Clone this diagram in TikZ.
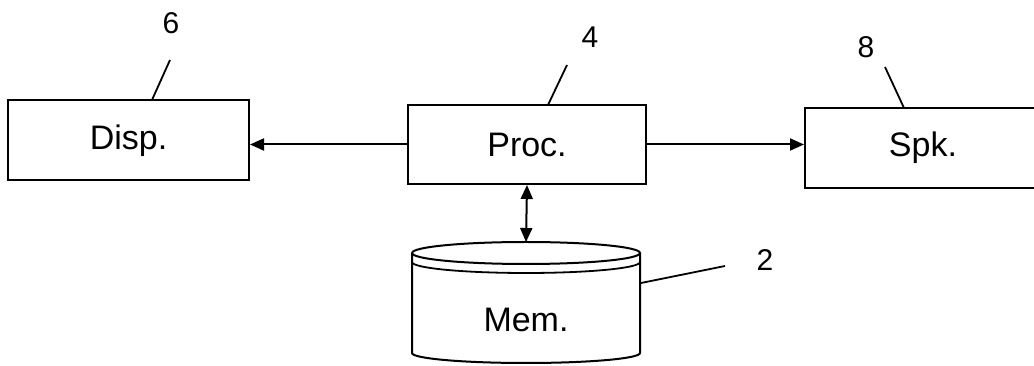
\documentclass[tikz,border=0pt]{standalone}
\usepackage{fontspec}
\setmainfont{Liberation Sans}
\usetikzlibrary{positioning,arrows.meta}
\newcommand{\blockfont}{\fontsize{34}{40}\selectfont}
\newcommand{\refnumfont}{\fontsize{30}{36}\selectfont}

\begin{document}
\begin{tikzpicture}[x=1pt, y=1pt,
    block/.style={draw, line width=2pt, minimum height=80pt, font=\blockfont},
    refnum/.style={font=\refnumfont, inner sep=0pt},
    lead/.style={line width=1.8pt},
    arrow/.style={line width=2pt, -{Triangle[length=14pt, width=12pt]}},
    dblarrow/.style={line width=2pt, {Triangle[length=14pt, width=12pt]}-{Triangle[length=14pt, width=12pt]}}
]
    \useasboundingbox (0,0) rectangle (1034,366);

    \node[block, minimum width=241pt] (disp) at (128.5,225.5) {Disp.};
    \node[block, minimum width=238pt, minimum height=79pt] (proc) at (527,221.5) {Proc.};
    \node[block, minimum width=240pt] (spk) at (925,218) {\hspace*{-4pt}Spk.};

    % memory drum
    \node[font=\blockfont] (mem) at (526,46) {Mem.};
    \coordinate (memtop) at (526,124);
    \draw[line width=2pt] (412,113) arc[start angle=180, end angle=-180, x radius=114, y radius=11];
    \draw[line width=1.8pt] (412,104) arc[start angle=180, end angle=360, x radius=114, y radius=11];
    \draw[line width=2pt] (412,113) -- (412,13)
        arc[start angle=180, end angle=360, x radius=114, y radius=10] -- (640,113);

    \draw[arrow] (proc.west) -- (proc.west -| disp.east);
    \draw[arrow] (proc.east) -- (proc.east -| spk.west);
    \draw[dblarrow] (proc.south) -- (memtop);

    % reference numerals
    \node[refnum] (n6) at (171,343) {6};
    \node[refnum] (n4) at (590,329) {4};
    \node[refnum] (n8) at (866,319) {8};
    \node[refnum] (n2) at (765,106) {2};

    \coordinate (t6) at (170,306);
    \coordinate (b6) at (152,266);
    \coordinate (t4) at (567,301);
    \coordinate (b4) at (548,261);
    \coordinate (t8) at (885,299);
    \coordinate (b8) at (904,258);
    \coordinate (t2) at (725,100);
    \coordinate (b2) at (641,83);

    \draw[lead] (t6) -- (b6);
    \draw[lead] (t4) -- (b4);
    \draw[lead] (t8) -- (b8);
    \draw[lead] (t2) -- (b2);
\end{tikzpicture}
\end{document}
